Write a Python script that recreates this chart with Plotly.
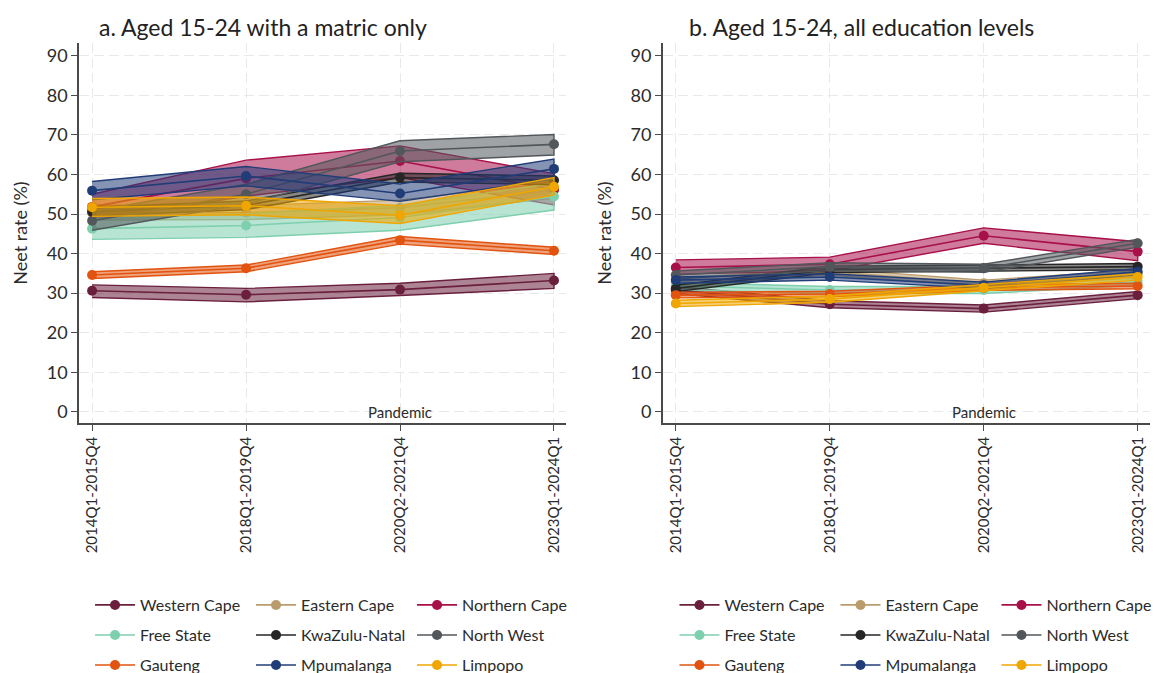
import plotly.graph_objects as go
from plotly.subplots import make_subplots

# =====================================================================
# Data
periods = ["2014Q1-2015Q4", "2018Q1-2019Q4", "2020Q2-2021Q4", "2023Q1-2024Q1"]
x_pos = [0, 1, 2, 3]

regions = ["Western Cape", "Eastern Cape", "Northern Cape",
           "Free State", "KwaZulu-Natal", "North West",
           "Gauteng", "Mpumalanga", "Limpopo"]

colors = ["#6a1f3d", "#b99c6c", "#a8104a",
          "#7ecfae", "#262626", "#52575b",
          "#e1530f", "#203d78", "#efa600"]

# a. aged 15-24 with a matric only (estimate, lower, upper)
matric_est = [
    [30.6, 29.6, 30.9, 33.2],
    [50.3, 50.3, 51.6, 56.0],
    [51.8, 59.0, 63.4, 56.2],
    [46.3, 47.1, 49.1, 54.4],
    [50.6, 52.2, 59.2, 58.5],
    [48.3, 55.0, 65.9, 67.6],
    [34.6, 36.3, 43.4, 40.7],
    [55.9, 59.6, 55.2, 61.4],
    [51.7, 52.1, 49.7, 56.9],
]
matric_lo = [
    [28.9, 27.8, 29.4, 31.2],
    [48.5, 48.6, 49.8, 54.0],
    [48.5, 54.5, 59.2, 52.3],
    [43.6, 44.1, 45.9, 51.0],
    [49.5, 51.1, 58.1, 57.4],
    [45.9, 52.5, 63.2, 64.9],
    [33.7, 35.4, 42.4, 39.8],
    [53.6, 57.1, 53.2, 58.8],
    [49.4, 49.8, 47.6, 54.8],
]
matric_hi = [
    [32.1, 31.2, 32.5, 35.0],
    [52.2, 52.1, 53.5, 58.0],
    [55.0, 63.6, 67.2, 60.2],
    [48.9, 50.1, 52.2, 57.8],
    [51.7, 53.3, 60.3, 59.6],
    [50.7, 57.5, 68.5, 70.1],
    [35.4, 37.1, 44.3, 41.6],
    [58.2, 62.0, 57.6, 63.9],
    [53.9, 54.3, 52.1, 59.2],
]

# b. aged 15-24, all education levels
all_est = [
    [30.8, 27.2, 26.1, 29.5],
    [32.9, 35.4, 32.5, 35.0],
    [36.5, 37.3, 44.5, 40.5],
    [31.8, 30.8, 30.8, 32.9],
    [31.2, 36.0, 36.3, 36.7],
    [34.6, 36.7, 36.3, 42.6],
    [29.5, 29.8, 31.4, 31.8],
    [33.3, 34.1, 32.0, 35.4],
    [27.4, 28.5, 31.4, 34.1],
]
all_lo = [
    [29.9, 26.3, 25.2, 28.6],
    [32.1, 34.6, 31.7, 34.2],
    [34.8, 35.6, 42.6, 38.2],
    [30.9, 29.9, 29.9, 32.0],
    [30.4, 35.2, 35.5, 35.9],
    [33.6, 35.7, 35.3, 41.6],
    [28.8, 29.1, 30.7, 31.1],
    [32.5, 33.3, 31.2, 34.6],
    [26.6, 27.7, 30.6, 33.3],
]
all_hi = [
    [31.7, 28.1, 27.0, 30.4],
    [33.7, 36.2, 33.3, 35.8],
    [38.4, 39.1, 46.5, 43.0],
    [32.7, 31.7, 31.7, 33.8],
    [32.0, 36.8, 37.1, 37.5],
    [35.6, 37.7, 37.3, 43.6],
    [30.2, 30.5, 32.1, 32.5],
    [34.1, 34.9, 32.8, 36.2],
    [28.2, 29.3, 32.2, 34.9],
]


def rgba(hex_color, alpha):
    h = hex_color.lstrip("#")
    r, g, b = int(h[0:2], 16), int(h[2:4], 16), int(h[4:6], 16)
    return f"rgba({r},{g},{b},{alpha})"


FONT = "Lato"
TXT = "#2b2b2b"

fig = make_subplots(rows=1, cols=2, horizontal_spacing=0.09)

panels = [(matric_est, matric_lo, matric_hi, 1, 0),
          (all_est, all_lo, all_hi, 2, 3)]

for est, lo, hi, col, leg_off in panels:
    for i, name in enumerate(regions):
        c = colors[i]
        k = leg_off + i // 3
        legend_id = "legend" if k == 0 else f"legend{k + 1}"
        # confidence band
        fig.add_trace(go.Scatter(
            x=x_pos + x_pos[::-1], y=hi[i] + lo[i][::-1],
            fill="toself", fillcolor=rgba(c, 0.55),
            line=dict(color=c, width=1.4), mode="lines",
            hoverinfo="skip", showlegend=False), row=1, col=col)
        # point estimate
        fig.add_trace(go.Scatter(
            x=x_pos, y=est[i], name=name, mode="lines+markers",
            line=dict(color=c, width=1.6),
            marker=dict(color=c, size=10),
            legend=legend_id, showlegend=True), row=1, col=col)

axis_common = dict(
    showline=True, linecolor="#4a4a4a", linewidth=1.5,
    ticks="outside", ticklen=6, tickcolor="#4a4a4a",
    showgrid=True, gridcolor="#e9e9e9", gridwidth=1, griddash="10px,5px",
    zeroline=False,
)

for col in (1, 2):
    fig.update_xaxes(axis_common, range=[-0.085, 3.08], tickvals=x_pos,
                     ticktext=periods, tickangle=-90,
                     tickfont=dict(family=FONT, size=15, color=TXT),
                     row=1, col=col)
    fig.update_yaxes(axis_common, range=[-2.8, 93.2], tick0=0, dtick=10,
                     tickfont=dict(family=FONT, size=18, color=TXT),
                     title=dict(text="Neet rate (%)", standoff=14,
                                font=dict(family=FONT, size=18, color=TXT)),
                     row=1, col=col)

annotations = [
    dict(text="a. Aged 15-24 with a matric only", xref="paper", yref="paper",
         x=0.172, y=1.042, showarrow=False, xanchor="center", yanchor="middle",
         font=dict(family=FONT, size=23, color="#222")),
    dict(text="b. Aged 15-24, all education levels", xref="paper", yref="paper",
         x=0.731, y=1.042, showarrow=False, xanchor="center", yanchor="middle",
         font=dict(family=FONT, size=23, color="#222")),
    dict(text="Pandemic", xref="x", yref="y", x=2, y=0, showarrow=False,
         font=dict(family=FONT, size=15, color=TXT)),
    dict(text="Pandemic", xref="x2", yref="y2", x=2, y=0, showarrow=False,
         font=dict(family=FONT, size=15, color=TXT)),
]

legend_style = dict(orientation="h", xanchor="left", yanchor="middle",
                    bgcolor="rgba(0,0,0,0)", entrywidth=106, itemwidth=40,
                    font=dict(family=FONT, size=16, color=TXT))
row_y = [-0.479, -0.558, -0.637]
legends = {}
for k in range(6):
    key = "legend" if k == 0 else f"legend{k + 1}"
    x = 0.0103 if k < 3 else 0.556
    legends[key] = dict(legend_style, x=x, y=row_y[k % 3])

fig.update_layout(
    width=1153, height=673,
    paper_bgcolor="white", plot_bgcolor="white",
    margin=dict(l=79, r=3, t=43, b=250, autoexpand=False),
    font=dict(family=FONT, color=TXT),
    annotations=annotations,
    **legends,
)

# drop the default 8px body margin so the figure fills the window exactly
fig.write_html("out.html", config={"displayModeBar": False},
               post_script="document.body.style.margin = '0';")
